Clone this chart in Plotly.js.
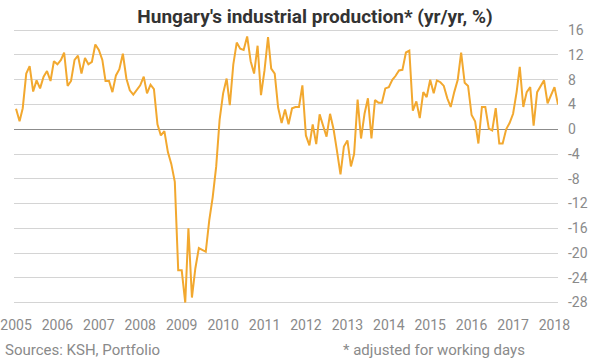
<!DOCTYPE html>
<html>
<head>
<meta charset="utf-8">
<script src="https://cdn.plot.ly/plotly-3.0.1.min.js"></script>
<style>html,body{margin:0;padding:0;background:#fff;}#chart{width:597px;height:360px;}</style>
</head>
<body>
<div id="chart"></div>
<script>
// Monthly industrial production, yr/yr %, working-day adjusted
const startYear = 2005;
const v2005 = [3.3, 1.3, 3.4, 9.0, 10.2, 6.1, 7.9, 6.6, 8.5, 9.4, 7.8, 11.0];
const v2006 = [10.5, 11.2, 12.4, 7.0, 7.8, 11.2, 11.9, 9.0, 11.5, 10.5, 10.9, 13.7];
const v2007 = [12.8, 11.2, 7.8, 7.8, 6.0, 8.7, 9.7, 12.2, 8.2, 6.3, 5.6, 6.3];
const v2008 = [7.1, 8.5, 5.8, 7.2, 6.5, 0.8, -1.0, -0.3, -3.7, -5.6, -8.5, -22.8];
const v2009 = [-22.8, -28.0, -16.0, -27.2, -22.5, -19.2, -19.5, -19.8, -14.7, -11.0, -6.0, 1.5];
const v2010 = [5.8, 8.2, 3.9, 10.5, 14.0, 13.0, 12.8, 15.0, 11.0, 9.0, 13.5, 5.5];
const v2011 = [9.5, 14.9, 9.8, 9.0, 3.5, 1.0, 3.2, 0.8, 3.4, 3.6, 3.6, 7.1];
const v2012 = [-1.0, -2.6, 0.8, -2.4, 2.4, 0.5, -1.2, 2.5, 0.0, -3.5, -7.3, -2.8];
const v2013 = [-1.8, -6.0, -4.0, 4.8, -1.5, 2.5, 5.0, -1.5, 4.7, 4.3, 4.3, 6.6];
const v2014 = [6.8, 8.0, 8.6, 9.5, 9.6, 12.4, 12.7, 3.0, 4.5, 1.8, 6.0, 5.2];
const v2015 = [8.0, 5.8, 7.9, 7.6, 7.0, 5.0, 3.6, 6.0, 8.0, 12.4, 7.5, 7.0];
const v2016 = [2.3, 1.3, -2.3, 3.6, 3.6, 0.1, -0.2, 3.4, -2.3, -2.3, 0.0, 1.0];
const v2017 = [2.5, 6.0, 10.1, 3.6, 6.0, 6.8, 0.6, 6.0, 7.1, 7.9, 4.2, 5.5];
const v2018 = [6.8, 4.0];

const yearLabels = ['2005','2006','2007','2008','2009','2010','2011','2012','2013','2014','2015','2016','2017','2018'];
const yTicks = [-28, -24, -20, -16, -12, -8, -4, 0, 4, 8, 12, 16];

const series = [v2005, v2006, v2007, v2008, v2009, v2010, v2011, v2012, v2013, v2014, v2015, v2016, v2017, v2018];
const xs = [], ys = [];
series.forEach((arr, yi) => {
  arr.forEach((val, mi) => {
    const yr = startYear + yi;
    xs.push(yr + '-' + String(mi + 1).padStart(2, '0') + '-01');
    ys.push(val);
  });
});

const W = 597, H = 360;
const margin = {l: 14, r: 39, t: 29, b: 55};
const plotH = H - margin.t - margin.b;
function pyToPaper(py) { return (H - margin.b - py) / plotH; }

const trace = {
  x: xs, y: ys, type: 'scatter', mode: 'lines',
  line: {color: '#f2a82f', width: 2},
  hoverinfo: 'skip'
};

const layout = {
  width: W, height: H,
  margin: margin,
  paper_bgcolor: '#ffffff', plot_bgcolor: '#ffffff',
  showlegend: false,
  font: {family: 'Roboto, sans-serif', color: '#8a8a8a', size: 14},
  title: {
    text: "<b>Hungary's industrial production* (yr/yr, %)</b>",
    font: {family: 'Roboto, sans-serif', size: 19, color: '#333333'},
    xref: 'container', yref: 'container',
    x: 315 / W, xanchor: 'center',
    y: 1 - 16 / H, yanchor: 'middle'
  },
  xaxis: {
    type: 'date',
    range: ['2004-12-14', '2018-02-01'],
    tickvals: yearLabels.map(y => y + '-01-01'),
    ticktext: yearLabels,
    showgrid: false, zeroline: false, showline: false,
    ticks: '',
    tickfont: {size: 14, color: '#8a8a8a'},
    ticklabelstandoff: 10,
    fixedrange: true
  },
  yaxis: {
    side: 'right',
    range: [-28.4, 16.2],
    tickvals: yTicks,
    ticktext: yTicks.map(String),
    showgrid: true, gridcolor: '#d4d4d4', gridwidth: 1,
    zeroline: true, zerolinecolor: '#8c8c8c', zerolinewidth: 1,
    showline: false, ticks: '',
    tickfont: {size: 14, color: '#8a8a8a'},
    ticklabelstandoff: 9,
    fixedrange: true
  },
  annotations: [
    {
      text: 'Sources: KSH, Portfolio',
      xref: 'paper', yref: 'paper',
      x: (3 - margin.l) / (W - margin.l - margin.r), xanchor: 'left',
      y: pyToPaper(350), yanchor: 'middle',
      showarrow: false,
      font: {family: 'Roboto, sans-serif', size: 15, color: '#8a8a8a'}
    },
    {
      text: '* adjusted for working days',
      xref: 'paper', yref: 'paper',
      x: (434 - margin.l) / (W - margin.l - margin.r), xanchor: 'center',
      y: pyToPaper(350), yanchor: 'middle',
      showarrow: false,
      font: {family: 'Roboto, sans-serif', size: 15, color: '#8a8a8a'}
    }
  ]
};

Plotly.newPlot('chart', [trace], layout, {displayModeBar: false, staticPlot: true});
</script>
</body>
</html>
